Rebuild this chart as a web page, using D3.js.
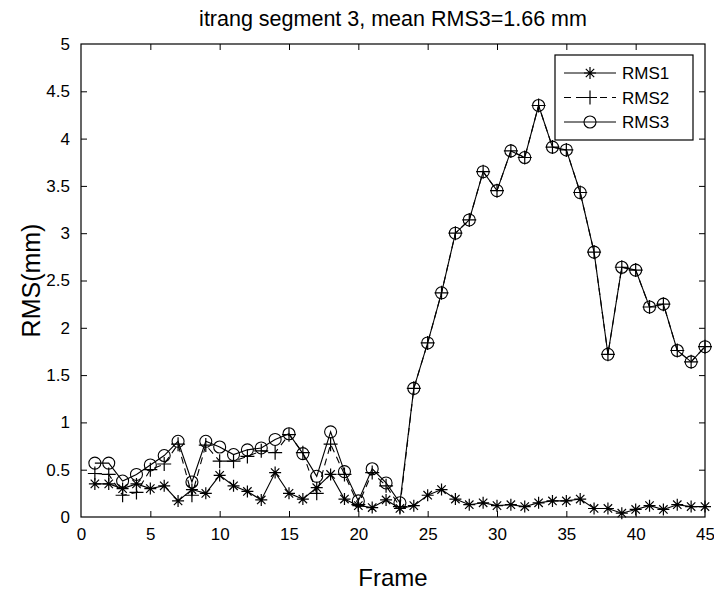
<!DOCTYPE html>
<html>
<head>
<meta charset="utf-8">
<script src="https://cdn.jsdelivr.net/npm/d3@7"></script>
<style>
  html, body { margin: 0; padding: 0; background: #fff; }
  svg text { font-family: "Liberation Sans", Arial, sans-serif; fill: #000; }
</style>
</head>
<body>
<svg id="chart" width="714" height="597"></svg>
<script>
const frames = d3.range(1, 46);
const rms1 = [0.35,0.35,0.30,0.35,0.30,0.33,0.17,0.29,0.25,0.44,0.33,0.27,0.18,0.47,0.25,0.19,0.31,0.45,0.19,0.12,0.10,0.18,0.09,0.12,0.23,0.29,0.19,0.13,0.15,0.12,0.13,0.11,0.15,0.17,0.17,0.19,0.09,0.09,0.04,0.08,0.12,0.08,0.13,0.11,0.11];
const rms2 = [0.46,0.45,0.23,0.26,0.50,0.56,0.77,0.23,0.76,0.59,0.59,0.64,0.70,0.68,0.87,0.68,0.25,0.77,0.45,0.13,0.47,0.33,0.11,1.36,1.84,2.37,3.00,3.14,3.65,3.45,3.87,3.80,4.35,3.91,3.88,3.43,2.80,1.72,2.64,2.61,2.22,2.25,1.76,1.64,1.80];
const rms3 = [0.57,0.57,0.38,0.45,0.55,0.65,0.80,0.37,0.80,0.74,0.66,0.71,0.73,0.82,0.88,0.67,0.43,0.90,0.48,0.17,0.51,0.36,0.15,1.36,1.84,2.37,3.00,3.14,3.65,3.45,3.87,3.80,4.35,3.91,3.88,3.43,2.80,1.72,2.64,2.61,2.22,2.25,1.76,1.64,1.80];
const xTicks = [0,5,10,15,20,25,30,35,40,45];
const yTicks = [0,0.5,1,1.5,2,2.5,3,3.5,4,4.5,5];
const seriesNames = ["RMS1","RMS2","RMS3"];
const titleText = "itrang segment 3, mean RMS3=1.66 mm";

const svg = d3.select("#chart");
const L = 81, R = 705, T = 44, B = 517;
const x = d3.scaleLinear().domain([0,45]).range([L,R]);
const y = d3.scaleLinear().domain([0,5]).range([B,T]);
const tl = 6;

// axes box
svg.append("rect").attr("x",L).attr("y",T).attr("width",R-L).attr("height",B-T)
  .attr("fill","none").attr("stroke","#000").attr("stroke-width",1.2);

const fmt = d => String(d);
const gx = svg.append("g").attr("transform",`translate(0,${B})`)
  .call(d3.axisBottom(x).tickValues(xTicks).tickFormat(fmt).tickSize(-tl).tickPadding(tl+5));
const gxt = svg.append("g").attr("transform",`translate(0,${T})`)
  .call(d3.axisTop(x).tickValues(xTicks).tickFormat("").tickSize(-tl));
const gy = svg.append("g").attr("transform",`translate(${L},0)`)
  .call(d3.axisLeft(y).tickValues(yTicks).tickFormat(fmt).tickSize(-tl).tickPadding(tl+5));
const gyr = svg.append("g").attr("transform",`translate(${R},0)`)
  .call(d3.axisRight(y).tickValues(yTicks).tickFormat("").tickSize(-tl));
[gx,gxt,gy,gyr].forEach(g => {
  g.select(".domain").remove();
  g.selectAll("line").attr("stroke","#000");
  g.selectAll("text").attr("font-size",17).attr("font-family",'"Liberation Sans", Arial, sans-serif');
});
gx.selectAll(".tick").filter(d => d===0||d===45).select("line").remove();
gxt.selectAll(".tick").filter(d => d===0||d===45).select("line").remove();
gy.selectAll(".tick").filter(d => d===0||d===5).select("line").remove();
gyr.selectAll(".tick").filter(d => d===0||d===5).select("line").remove();

// title & labels
svg.append("text").attr("x",(L+R)/2).attr("y",26).attr("text-anchor","middle")
  .attr("font-size",21.5).text(titleText);
svg.append("text").attr("x",(L+R)/2).attr("y",586).attr("text-anchor","middle")
  .attr("font-size",24).text("Frame");
svg.append("text").attr("transform",`translate(40,${(T+B)/2}) rotate(-90)`)
  .attr("text-anchor","middle").attr("font-size",25).text("RMS(mm)");

// markers
function star(g, cx, cy, s) {
  const p = `M${cx-s},${cy}L${cx+s},${cy}M${cx},${cy-s}L${cx},${cy+s}` +
    `M${cx-s*0.7},${cy-s*0.7}L${cx+s*0.7},${cy+s*0.7}M${cx-s*0.7},${cy+s*0.7}L${cx+s*0.7},${cy-s*0.7}`;
  g.append("path").attr("d",p).attr("stroke","#000").attr("stroke-width",1.2).attr("fill","none");
}
function plus(g, cx, cy, s) {
  g.append("path").attr("d",`M${cx-s},${cy}L${cx+s},${cy}M${cx},${cy-s}L${cx},${cy+s}`)
    .attr("stroke","#000").attr("stroke-width",1.2).attr("fill","none");
}
function circ(g, cx, cy, r) {
  g.append("circle").attr("cx",cx).attr("cy",cy).attr("r",r)
    .attr("stroke","#000").attr("stroke-width",1.1).attr("fill","none");
}

const line = d3.line().x((d,i) => x(frames[i])).y(d => y(d));
const series = [
  {name:seriesNames[0], data:rms1, dash:null, mk:(g,cx,cy)=>star(g,cx,cy,6)},
  {name:seriesNames[1], data:rms2, dash:"7,5", mk:(g,cx,cy)=>plus(g,cx,cy,7)},
  {name:seriesNames[2], data:rms3, dash:null, mk:(g,cx,cy)=>circ(g,cx,cy,6)}
];
const plot = svg.append("g");
series.forEach(s => {
  plot.append("path").datum(s.data).attr("d",line).attr("fill","none")
    .attr("stroke","#000").attr("stroke-width",1.1)
    .attr("stroke-dasharray",s.dash);
  const mg = plot.append("g");
  s.data.forEach((v,i) => s.mk(mg, x(frames[i]), y(v)));
});

// legend
const lg = svg.append("g");
lg.append("rect").attr("x",555).attr("y",55).attr("width",138).attr("height",85)
  .attr("fill","#fff").attr("stroke","#000").attr("stroke-width",1.2);
series.forEach((s,i) => {
  const ly = 73 + i*24.5;
  lg.append("line").attr("x1",564).attr("x2",616).attr("y1",ly).attr("y2",ly)
    .attr("stroke","#000").attr("stroke-width",1).attr("stroke-dasharray",s.dash);
  s.mk(lg, 590, ly);
  lg.append("text").attr("x",622).attr("y",ly+6).attr("font-size",17).text(s.name);
});
</script>
</body>
</html>
